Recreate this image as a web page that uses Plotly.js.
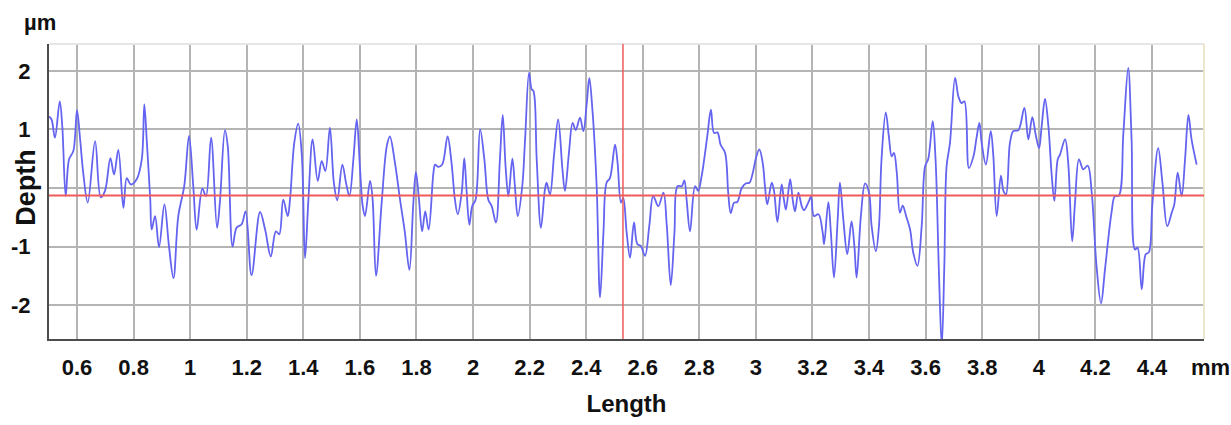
<!DOCTYPE html>
<html>
<head>
<meta charset="utf-8">
<script src="https://cdn.plot.ly/plotly-3.0.1.min.js"></script>
<style>
  html, body { margin: 0; padding: 0; background: #ffffff; }
  #chart { width: 1231px; height: 425px; }
</style>
</head>
<body>
<div id="chart"></div>
<script>
// Profile position along the sample (mm)
const lengthMm = [
  0.501,0.510,0.522,0.539,0.548,0.560,0.572,0.587,0.600,0.611,0.622,0.638,0.664,0.684,0.699,0.718,0.731,0.746,0.764,0.776,
  0.790,0.811,0.829,0.838,0.847,0.859,0.864,0.876,0.890,0.909,0.925,0.941,0.958,0.979,0.996,1.011,1.023,1.043,1.056,1.074,
  1.095,1.105,1.123,1.133,1.150,1.164,1.182,
  1.196,1.217,1.247,1.265,1.285,1.303,1.315,1.329,1.345,1.353,1.368,1.382,1.395,1.406,1.418,1.433,1.451,1.465,1.478,1.494,
  1.508,1.520,1.538,1.551,1.563,1.577,1.589,1.600,1.610,1.618,1.636,1.645,1.657,1.677,1.695,1.706,1.724,1.742,1.759,1.775,
  1.789,1.798,1.809,1.820,1.831,1.843,1.860,1.866,1.877,
  1.891,1.910,1.924,1.936,1.946,1.960,1.969,1.977,1.987,1.997,2.009,2.025,2.040,2.054,2.066,2.081,2.095,2.105,2.115,2.125,
  2.139,2.148,2.158,2.174,2.184,2.198,2.207,2.214,2.225,2.240,2.254,2.260,2.272,2.287,2.301,2.316,2.325,2.339,2.352,2.363,
  2.378,2.390,2.402,2.411,2.422,2.437,2.449,2.461,2.472,2.484,2.502,2.511,2.523,2.531,2.543,2.555,
  2.569,2.581,2.593,2.608,2.623,2.637,2.655,2.673,2.685,2.699,2.712,2.723,2.738,2.747,2.755,2.767,2.785,2.796,2.808,2.828,
  2.841,2.852,2.864,2.875,2.891,2.902,2.911,2.923,2.934,2.950,2.965,2.977,2.989,3.000,3.012,3.024,3.032,3.040,3.056,3.064,
  3.076,3.091,3.099,3.106,3.121,3.130,3.138,3.150,3.162,3.170,3.185,3.195,3.205,3.221,3.236,3.241,3.256,
  3.265,3.276,3.289,3.297,3.309,3.323,3.338,3.348,3.356,3.371,3.386,3.400,3.409,3.424,3.435,3.444,3.459,3.470,3.480,3.488,
  3.498,3.509,3.519,3.531,3.545,3.556,3.571,3.586,3.598,3.609,3.625,3.635,3.647,3.657,3.666,3.674,3.686,3.704,3.716,3.727,
  3.737,3.753,3.769,3.780,3.790,3.798,3.813,3.830,3.839,3.851,3.866,3.875,3.884,3.898,3.910,3.928,
  3.949,3.963,3.977,3.989,4.001,4.010,4.022,4.034,4.045,4.055,4.067,4.075,4.093,4.104,4.118,4.128,4.142,4.157,4.173,4.187,
  4.204,4.220,4.234,4.257,4.269,4.283,4.299,4.316,4.328,4.340,4.349,4.364,4.378,4.389,4.401,4.422,4.437,4.454,4.470,4.479,
  4.491,4.505,4.517,4.529,4.540,4.558
];
// Surface depth (µm)
const depthUm = [
  1.22,1.17,0.86,1.48,1.05,-0.14,0.49,0.63,1.33,0.83,0.26,-0.25,0.80,-0.16,-0.05,0.51,0.23,0.65,-0.34,0.17,
  0.06,0.15,0.49,1.43,0.77,-0.20,-0.71,-0.48,-1.01,-0.28,-0.99,-1.54,-0.48,0.03,0.89,0.03,-0.71,-0.01,-0.14,0.86,
  -0.68,-0.25,0.99,0.71,-1.00,-0.68,-0.62,
  -0.40,-1.49,-0.41,-0.71,-1.17,-0.74,-0.79,-0.20,-0.48,-0.20,0.77,1.10,0.54,-1.20,-0.20,0.83,0.12,0.46,0.29,1.03,
  0.09,-0.21,0.40,0.09,-0.14,0.49,1.17,0.37,-0.31,-0.48,0.12,-0.20,-1.50,-0.25,0.71,0.88,0.43,-0.20,-0.76,-1.40,
  -0.25,0.27,-0.20,-0.74,-0.40,-0.71,0.26,0.40,0.36,
  0.40,0.88,0.43,-0.20,-0.45,-0.08,0.51,-0.03,-0.63,-0.31,-0.20,1.00,0.49,-0.20,-0.31,-0.59,0.49,1.25,0.37,-0.14,
  0.50,0.03,-0.48,0.03,0.83,1.97,1.69,1.65,0.49,-0.68,-0.03,0.09,-0.11,0.60,1.17,0.32,-0.05,0.60,1.11,0.99,
  1.20,0.97,1.45,1.88,1.34,0.03,-1.87,-0.76,0.09,0.17,0.74,0.43,-0.25,-0.17,-0.76,-1.19,
  -0.59,-0.96,-0.99,-1.16,-0.65,-0.14,-0.31,-0.08,-0.65,-1.66,-0.76,0.03,0.03,0.13,-0.20,-0.74,0.03,-0.05,0.20,0.88,
  1.34,0.94,0.95,0.74,0.60,-0.08,-0.43,-0.25,-0.24,0.00,0.08,0.09,0.26,0.51,0.66,0.43,0.03,-0.28,0.09,-0.05,
  -0.58,0.06,-0.20,-0.37,0.15,-0.20,-0.40,-0.08,-0.31,-0.38,-0.25,-0.15,-0.48,-0.45,-0.76,-0.96,-0.24,
  -0.76,-1.53,-0.54,0.09,-0.54,-1.13,-0.57,-0.99,-1.53,-0.48,0.08,-0.08,-0.65,-1.08,-0.65,0.49,1.29,0.88,0.54,0.60,
  0.26,-0.42,-0.30,-0.48,-0.71,-1.10,-1.33,-0.65,0.37,0.49,1.14,0.49,-1.45,-2.70,-1.33,0.37,0.77,1.88,1.56,1.45,
  1.48,0.34,0.54,0.86,1.11,0.77,0.40,0.97,0.57,-0.48,0.21,-0.05,-0.11,0.77,0.97,0.99,
  1.37,0.83,1.21,0.91,0.68,1.05,1.52,1.05,0.26,-0.22,0.49,0.57,0.83,0.43,-0.91,-0.25,0.49,0.32,0.38,-0.08,
  -1.33,-1.97,-1.39,-0.42,-0.14,-0.13,0.94,2.05,0.83,-1.05,-1.02,-1.73,-1.13,-1.10,-0.31,0.68,0.09,-0.65,-0.42,-0.28,
  0.26,-0.14,0.49,1.25,0.83,0.40
];
// Axis ticks
const xTickVals = [0.6,0.8,1,1.2,1.4,1.6,1.8,2,2.2,2.4,2.6,2.8,3,3.2,3.4,3.6,3.8,4,4.2,4.4];
const xTickText = ['0.6','0.8','1','1.2','1.4','1.6','1.8','2','2.2','2.4','2.6','2.8','3','3.2','3.4','3.6','3.8','4','4.2','4.4'];
const yTickVals = [-2,-1,0,1,2];
const yTickText = ['-2','-1','','1','2'];
// Reference (mean) line and cursor position
const meanLineDepth = -0.13;
const cursorLength = 2.53;

const fontFam = '"Liberation Sans", Arial, sans-serif';

const trace = {
  x: lengthMm,
  y: depthUm,
  type: 'scatter',
  mode: 'lines',
  line: { color: 'rgb(100,100,240)', width: 1.8, shape: 'spline', smoothing: 1.0 },
  hoverinfo: 'skip'
};

const layout = {
  width: 1231,
  height: 425,
  margin: { l: 49, r: 27, t: 44, b: 86 },
  paper_bgcolor: '#ffffff',
  plot_bgcolor: '#ffffff',
  showlegend: false,
  xaxis: {
    range: [0.501, 4.584],
    tickmode: 'array',
    tickvals: xTickVals,
    ticktext: xTickText,
    showgrid: true,
    gridcolor: '#b4b4b4',
    gridwidth: 2,
    zeroline: false,
    showline: true,
    linecolor: '#4d4d4d',
    linewidth: 2,
    ticks: '',
    ticklabelstandoff: 8,
    tickfont: { family: fontFam, size: 22, color: '#111111', weight: 700 },
    title: { text: 'Length', font: { family: fontFam, size: 24, color: '#111111', weight: 700 }, standoff: 16 }
  },
  yaxis: {
    range: [-2.58, 2.46],
    tickmode: 'array',
    tickvals: yTickVals,
    ticktext: yTickText,
    showgrid: true,
    gridcolor: '#b4b4b4',
    gridwidth: 2,
    zeroline: false,
    showline: true,
    linecolor: '#4d4d4d',
    linewidth: 2,
    ticks: '',
    ticklabelstandoff: 12,
    tickfont: { family: fontFam, size: 22, color: '#111111', weight: 700 },
    title: { text: '', font: { family: fontFam, size: 23, color: '#111111', weight: 700 } }
  },
  shapes: [
    { type: 'line', xref: 'paper', yref: 'paper', x0: 0, x1: 1, y0: 1, y1: 1, line: { color: '#e6e6e6', width: 2 } },
    { type: 'line', xref: 'paper', yref: 'paper', x0: 1, x1: 1, y0: 0, y1: 1, line: { color: '#ece6cc', width: 2 } },
    { type: 'line', xref: 'paper', yref: 'y', x0: 0, x1: 1, y0: meanLineDepth, y1: meanLineDepth, line: { color: 'rgb(240,90,90)', width: 2 } },
    { type: 'line', xref: 'x', yref: 'paper', x0: cursorLength, x1: cursorLength, y0: 0, y1: 1, line: { color: 'rgb(240,90,90)', width: 1.5 } }
  ],
  annotations: [
    { text: 'µm', xref: 'paper', yref: 'paper', x: -0.008, y: 1.0, yshift: 22, xanchor: 'center', yanchor: 'middle', showarrow: false,
      font: { family: fontFam, size: 22, color: '#111111', weight: 700 } },
    { text: 'mm', xref: 'paper', yref: 'paper', x: 1.0, xshift: 6, y: 0, yshift: -28, xanchor: 'center', yanchor: 'middle', showarrow: false,
      font: { family: fontFam, size: 22, color: '#111111', weight: 700 } },
    { text: 'Depth', xref: 'paper', yref: 'paper', x: 0, xshift: -23, y: 0.513, xanchor: 'center', yanchor: 'middle', textangle: -90, showarrow: false,
      font: { family: fontFam, size: 27, color: '#111111', weight: 700 } }
  ]
};

Plotly.newPlot('chart', [trace], layout, { displayModeBar: false, staticPlot: true });
</script>
</body>
</html>
